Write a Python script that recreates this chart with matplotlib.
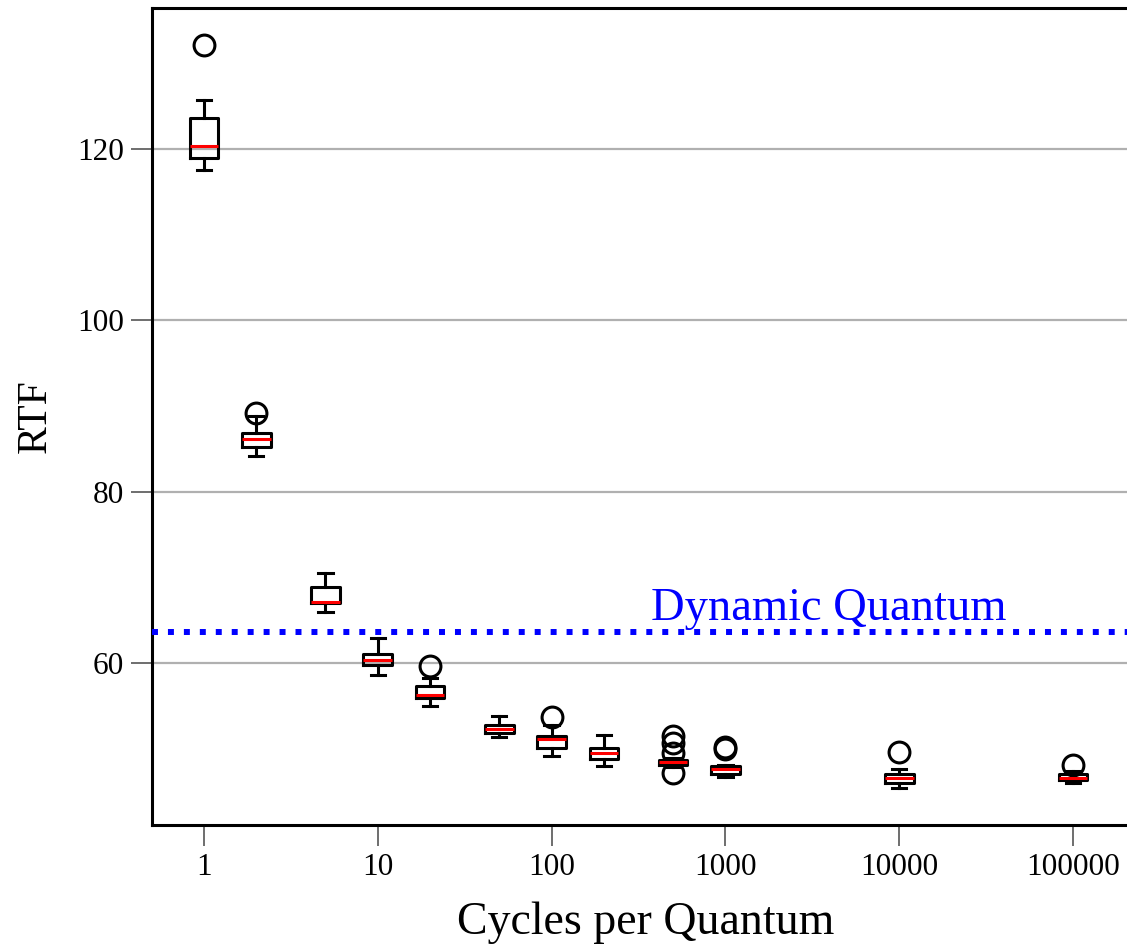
import matplotlib
matplotlib.use("Agg")
import matplotlib.pyplot as plt
import numpy as np

# cycles per quantum and box statistics
cycles = [1, 2, 5, 10, 20, 50, 100, 200, 500, 1000, 10000, 100000]
whislo = [117.6, 84.2, 66.0, 58.6, 55.0, 51.4, 49.2, 48.0, 47.9, 46.7, 45.45, 46.0]
q1 = [119.0, 85.25, 67.0, 59.8, 55.95, 51.8, 50.1, 48.8, 48.1, 47.05, 46.05, 46.35]
med = [120.3, 86.2, 67.1, 60.4, 56.25, 52.35, 51.1, 49.5, 48.4, 47.6, 46.6, 46.6]
q3 = [123.6, 86.9, 68.9, 61.1, 57.3, 52.8, 51.5, 50.1, 48.7, 48.0, 47.1, 47.1]
whishi = [125.7, 88.8, 70.5, 62.9, 58.3, 53.8, 52.8, 51.6, 48.9, 48.1, 47.6, 47.45]
fliers = [[132.1], [89.2], [], [], [59.65], [], [53.65], [],
          [51.5, 50.7, 49.5, 47.2], [50.2, 50.0], [49.65], [48.1]]
dynamic_quantum = 63.65
decades = [1, 10, 100, 1000, 10000, 100000]

plt.rcParams["font.family"] = ["Liberation Serif", "DejaVu Serif"]

fig = plt.figure(figsize=(11.27, 9.44), dpi=100)
ax = fig.add_axes([152 / 1127, 119 / 944, (1140 - 152) / 1127, (825 - 8) / 944])

stats = []
for i in range(len(cycles)):
    stats.append(dict(med=med[i], q1=q1[i], q3=q3[i], whislo=whislo[i],
                      whishi=whishi[i], fliers=fliers[i]))

lw = 2.2
ax.bxp(stats, positions=np.log10(cycles), widths=0.165, manage_ticks=False,
       boxprops=dict(color="black", linewidth=lw),
       whiskerprops=dict(color="black", linewidth=lw),
       capprops=dict(color="black", linewidth=lw),
       medianprops=dict(color="red", linewidth=lw),
       flierprops=dict(marker="o", markerfacecolor="none", markeredgecolor="black",
                       markersize=15, markeredgewidth=2.2))

ax.axhline(dynamic_quantum, color="#0000ff", linewidth=4.3,
           linestyle=(0, (1, 1.67)), zorder=3)
ax.text(2.572, 65.0, "Dynamic Quantum", color="#0000ff", fontsize=33.5,
        va="baseline", ha="left")

ax.set_xlim(-0.299, (1140 - 204) / 173.8)
ax.set_ylim(41.09, 136.46)
ax.set_xticks(np.log10(decades), labels=[str(d) for d in decades])
ax.set_yticks([60, 80, 100, 120])
ax.tick_params(axis="both", length=15, width=1.2, color="#555555",
               labelsize=22.5, pad=5)
ax.yaxis.grid(True, color="#b0b0b0", linewidth=1.6)
ax.set_axisbelow(True)
for side in ("left", "bottom", "top", "right"):
    ax.spines[side].set_linewidth(2.2)
    ax.spines[side].set_color("black")

ax.set_xlabel("Cycles per Quantum", fontsize=33, labelpad=14)
ax.set_ylabel("RTF", fontsize=30, labelpad=16)

fig.savefig("out.png", dpi=100)
